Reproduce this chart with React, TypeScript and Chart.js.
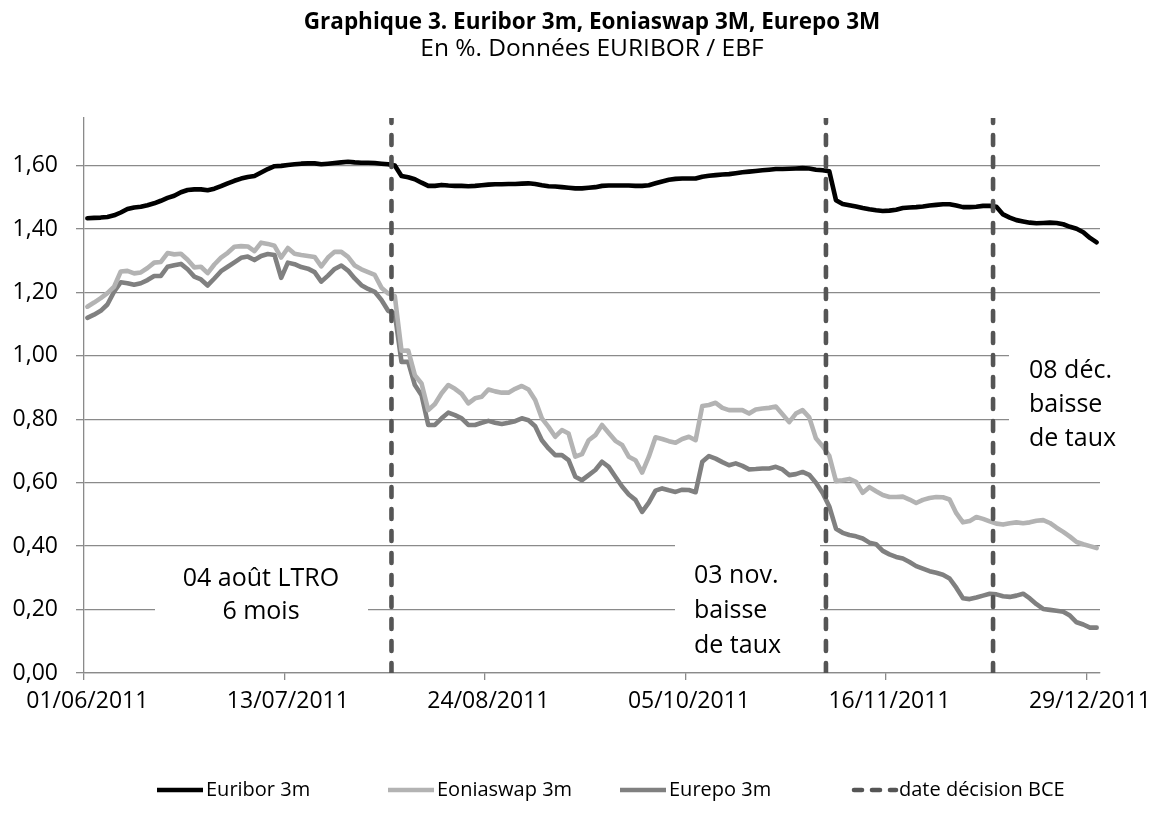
import React, { useEffect, useRef } from 'react';
import { Chart, registerables } from 'chart.js';

Chart.register(...registerables);

// ---------- DATA ----------
const FIRST_DAY = '01/06/2011';
const LAST_DAY = '30/12/2011';
const CLOSED_DAYS = ['26/12/2011'];

function parseDay(s: string): Date {
  const [d, m, y] = s.split('/').map(Number);
  return new Date(y, m - 1, d);
}
function formatDay(dt: Date): string {
  const d = String(dt.getDate()).padStart(2, '0');
  const m = String(dt.getMonth() + 1).padStart(2, '0');
  return `${d}/${m}/${dt.getFullYear()}`;
}
function businessDays(first: string, last: string, closed: string[]): string[] {
  const out: string[] = [];
  const end = parseDay(last);
  for (let dt = parseDay(first); dt <= end; dt = new Date(dt.getFullYear(), dt.getMonth(), dt.getDate() + 1)) {
    const wd = dt.getDay();
    const s = formatDay(dt);
    if (wd !== 0 && wd !== 6 && !closed.includes(s)) out.push(s);
  }
  return out;
}

const dates = businessDays(FIRST_DAY, LAST_DAY, CLOSED_DAYS);

const euribor3m = [
  1.434, 1.435, 1.436, 1.438, 1.443, 1.452, 1.463, 1.468, 1.470, 1.475,
  1.481, 1.489, 1.498, 1.505, 1.516, 1.523, 1.525, 1.525, 1.522, 1.527,
  1.535, 1.544, 1.552, 1.559, 1.564, 1.567, 1.578, 1.589, 1.598, 1.599,
  1.602, 1.604, 1.606, 1.607, 1.607, 1.604, 1.606, 1.608, 1.610, 1.612,
  1.610, 1.609, 1.609, 1.608, 1.606, 1.604, 1.600, 1.567, 1.563, 1.557,
  1.546, 1.536, 1.536, 1.539, 1.537, 1.536, 1.536, 1.535, 1.536, 1.538,
  1.540, 1.541, 1.541, 1.542, 1.542, 1.543, 1.544, 1.542, 1.538, 1.535,
  1.534, 1.532, 1.530, 1.528, 1.528, 1.530, 1.532, 1.536, 1.537, 1.537,
  1.537, 1.537, 1.536, 1.536, 1.538, 1.544, 1.550, 1.555, 1.558, 1.559,
  1.559, 1.559, 1.565, 1.568, 1.570, 1.572, 1.573, 1.576, 1.579, 1.581,
  1.583, 1.585, 1.587, 1.589, 1.589, 1.590, 1.591, 1.592, 1.591, 1.587,
  1.585, 1.582, 1.491, 1.479, 1.475, 1.471, 1.466, 1.462, 1.459, 1.457,
  1.458, 1.461, 1.466, 1.468, 1.469, 1.471, 1.474, 1.476, 1.478, 1.478,
  1.474, 1.469, 1.469, 1.470, 1.473, 1.473, 1.470, 1.446, 1.436, 1.428,
  1.424, 1.420, 1.418, 1.419, 1.420, 1.419, 1.415, 1.407, 1.401, 1.390,
  1.372, 1.358,
];

const eoniaswap3m = [
  1.155, 1.168, 1.182, 1.198, 1.218, 1.266, 1.268, 1.260, 1.263, 1.277,
  1.294, 1.296, 1.324, 1.320, 1.322, 1.303, 1.279, 1.281, 1.261, 1.288,
  1.310, 1.325, 1.344, 1.346, 1.345, 1.330, 1.357, 1.353, 1.347, 1.310,
  1.340, 1.322, 1.318, 1.315, 1.312, 1.282, 1.310, 1.328, 1.328, 1.312,
  1.285, 1.273, 1.264, 1.255, 1.215, 1.197, 1.188, 1.016, 1.017, 0.939,
  0.913, 0.829, 0.848, 0.882, 0.908, 0.896, 0.880, 0.850, 0.866, 0.871,
  0.894, 0.888, 0.884, 0.884, 0.896, 0.905, 0.894, 0.861, 0.803, 0.776,
  0.745, 0.766, 0.755, 0.682, 0.690, 0.734, 0.750, 0.782, 0.757, 0.732,
  0.719, 0.682, 0.671, 0.632, 0.682, 0.743, 0.738, 0.731, 0.726, 0.738,
  0.745, 0.734, 0.842, 0.845, 0.852, 0.836, 0.829, 0.829, 0.829, 0.818,
  0.831, 0.834, 0.836, 0.840, 0.816, 0.791, 0.818, 0.829, 0.806, 0.740,
  0.715, 0.685, 0.605, 0.608, 0.612, 0.603, 0.568, 0.586, 0.573, 0.561,
  0.555, 0.555, 0.556, 0.547, 0.536, 0.546, 0.552, 0.555, 0.554, 0.547,
  0.504, 0.475, 0.479, 0.492, 0.486, 0.478, 0.471, 0.468, 0.472, 0.475,
  0.472, 0.475, 0.480, 0.482, 0.473, 0.458, 0.445, 0.430, 0.413, 0.406,
  0.400, 0.394,
];

const eurepo3m = [
  1.120, 1.130, 1.142, 1.162, 1.202, 1.232, 1.229, 1.224, 1.229, 1.239,
  1.252, 1.252, 1.281, 1.286, 1.290, 1.273, 1.250, 1.241, 1.222, 1.244,
  1.267, 1.281, 1.295, 1.309, 1.313, 1.302, 1.315, 1.321, 1.318, 1.246,
  1.294, 1.289, 1.280, 1.275, 1.264, 1.234, 1.253, 1.274, 1.285, 1.269,
  1.244, 1.223, 1.211, 1.202, 1.176, 1.142, 1.134, 0.981, 0.981, 0.908,
  0.876, 0.782, 0.782, 0.803, 0.821, 0.813, 0.803, 0.782, 0.782, 0.789,
  0.795, 0.789, 0.785, 0.789, 0.794, 0.803, 0.797, 0.778, 0.734, 0.708,
  0.687, 0.687, 0.671, 0.619, 0.608, 0.624, 0.640, 0.666, 0.650, 0.619,
  0.588, 0.563, 0.546, 0.508, 0.537, 0.575, 0.582, 0.576, 0.571, 0.578,
  0.577, 0.570, 0.666, 0.684, 0.676, 0.665, 0.655, 0.661, 0.653, 0.642,
  0.643, 0.645, 0.645, 0.650, 0.642, 0.624, 0.627, 0.634, 0.625, 0.600,
  0.568, 0.525, 0.455, 0.442, 0.435, 0.431, 0.424, 0.411, 0.406, 0.385,
  0.374, 0.366, 0.361, 0.350, 0.337, 0.329, 0.321, 0.316, 0.310, 0.298,
  0.269, 0.236, 0.233, 0.238, 0.244, 0.250, 0.248, 0.242, 0.240, 0.244,
  0.250, 0.235, 0.217, 0.202, 0.199, 0.196, 0.193, 0.181, 0.160, 0.153,
  0.143, 0.143,
];

const decisionDates = ['04/08/2011', '03/11/2011', '08/12/2011'];

const yTickValues = [0, 0.2, 0.4, 0.6, 0.8, 1.0, 1.2, 1.4, 1.6];
const Y_MAX = 1.75;
const X_LABEL_EVERY = 30;

const seriesNames = ['Euribor 3m', 'Eoniaswap 3m', 'Eurepo 3m', 'date décision BCE'];
const titleText = 'Graphique 3. Euribor 3m, Eoniaswap 3M, Eurepo 3M';
const subtitleText = 'En %. Données EURIBOR / EBF';
const noteLTRO = ['04 août LTRO', '6 mois'];
const noteNov = ['03 nov.', 'baisse', 'de taux'];
const noteDec = ['08 déc.', 'baisse', 'de taux'];

// ---------- STYLE ----------
const FONT = "'Open Sans', 'DejaVu Sans', sans-serif";
const GRID = '#8a8a8a';
const COLORS = ['#000000', '#b3b3b3', '#808080', '#555555'];
const LINE_W = 4.6;
const DASH = [10, 12];

const W = 1144;
const H = 814;

const NOTES = [
  { lines: noteLTRO, box: [147, 548, 360, 632], x: 253, y0: 571, dy: 33, align: 'center' as CanvasTextAlign },
  { lines: noteNov, box: [667, 531, 812, 660], x: 686, y0: 568, dy: 35, align: 'left' as CanvasTextAlign },
  { lines: noteDec, box: [1001, 327, 1130, 455], x: 1021, y0: 363, dy: 34, align: 'left' as CanvasTextAlign },
];

const LEGEND_X = [149, 380, 612, 842];
const LEGEND_Y = 782;
const LEGEND_SAMPLE = 46;

const decorPlugin = {
  id: 'decor',
  beforeDatasetsDraw(chart: any) {
    const ctx: CanvasRenderingContext2D = chart.ctx;
    ctx.save();
    ctx.font = `25px ${FONT}`;
    ctx.textBaseline = 'middle';
    for (const n of NOTES) {
      ctx.fillStyle = '#ffffff';
      ctx.fillRect(n.box[0], n.box[1], n.box[2] - n.box[0], n.box[3] - n.box[1]);
      ctx.fillStyle = '#000000';
      ctx.textAlign = n.align;
      n.lines.forEach((t, k) => ctx.fillText(t, n.x, n.y0 + k * n.dy));
    }
    ctx.restore();
  },
  afterDraw(chart: any) {
    const ctx: CanvasRenderingContext2D = chart.ctx;
    ctx.save();
    ctx.fillStyle = '#000000';
    ctx.textAlign = 'center';
    ctx.textBaseline = 'middle';
    ctx.font = `bold 22.5px ${FONT}`;
    ctx.fillText(titleText, 584, 15);
    ctx.font = `24.5px ${FONT}`;
    ctx.fillText(subtitleText, 584, 41);

    // legend
    ctx.font = `20px ${FONT}`;
    ctx.textAlign = 'left';
    seriesNames.forEach((name, k) => {
      const x = LEGEND_X[k];
      ctx.beginPath();
      ctx.strokeStyle = COLORS[k];
      ctx.lineWidth = LINE_W;
      ctx.lineCap = k === 3 ? 'round' : 'butt';
      ctx.setLineDash(k === 3 ? [8, 10] : []);
      ctx.moveTo(x + (k === 3 ? 4 : 0), LEGEND_Y);
      ctx.lineTo(x + LEGEND_SAMPLE, LEGEND_Y);
      ctx.stroke();
      ctx.setLineDash([]);
      ctx.fillStyle = '#000000';
      ctx.fillText(name, x + LEGEND_SAMPLE + 3, LEGEND_Y);
    });
    ctx.restore();
  },
};

export default function App() {
  const ref = useRef<HTMLCanvasElement>(null);

  useEffect(() => {
    if (!ref.current) return;
    const nCat = dates.length;
    const lineSeries = [euribor3m, eoniaswap3m, eurepo3m].map((values, k) => ({
      type: 'line' as const,
      label: seriesNames[k],
      data: values,
      xAxisID: 'x',
      yAxisID: 'y',
      borderColor: COLORS[k],
      backgroundColor: COLORS[k],
      borderWidth: LINE_W,
      pointRadius: 0,
      tension: 0,
      borderJoinStyle: 'round' as const,
      borderCapStyle: 'round' as const,
      order: k + 1,
    }));
    const decisionSeries = decisionDates.map((d) => {
      const idx = dates.indexOf(d);
      return {
        type: 'line' as const,
        label: seriesNames[3],
        data: [
          { x: idx, y: 0 },
          { x: idx, y: Y_MAX },
        ],
        xAxisID: 'x2',
        yAxisID: 'y',
        borderColor: COLORS[3],
        borderWidth: LINE_W,
        borderDash: DASH,
        borderCapStyle: 'round' as const,
        pointRadius: 0,
        order: 0,
      };
    });

    const chart = new Chart(ref.current, {
      type: 'line',
      data: {
        labels: dates,
        datasets: [...decisionSeries, ...lineSeries] as any,
      },
      plugins: [decorPlugin],
      options: {
        animation: false,
        responsive: false,
        devicePixelRatio: 1,
        layout: { padding: { top: 110, right: 52, bottom: 89, left: 0 } },
        plugins: {
          legend: { display: false },
          title: { display: false },
          tooltip: { enabled: false },
        },
        scales: {
          x: {
            type: 'category',
            offset: true,
            grid: {
              offset: true,
              drawOnChartArea: false,
              tickLength: 7,
              lineWidth: 1.3,
              color: (c: any) =>
                typeof c.index === 'number' && c.index % X_LABEL_EVERY === 0 ? GRID : 'rgba(0,0,0,0)',
            },
            border: { color: GRID, width: 1.3 },
            ticks: {
              autoSkip: false,
              maxRotation: 0,
              minRotation: 0,
              padding: 8,
              color: '#000000',
              font: { family: FONT, size: 23 },
              callback: (_v: any, i: number) => (i % X_LABEL_EVERY === 0 ? dates[i] : ''),
            },
            afterFit: (s: any) => {
              s.height = 60;
            },
          },
          x2: {
            type: 'linear',
            display: false,
            min: 0,
            max: nCat,
          },
          y: {
            type: 'linear',
            min: 0,
            max: Y_MAX,
            afterBuildTicks: (s: any) => {
              s.ticks = yTickValues.map((v) => ({ value: v }));
            },
            grid: { color: GRID, lineWidth: 1.3, tickLength: 8 },
            border: { color: GRID, width: 1.3 },
            ticks: {
              padding: 18,
              color: '#000000',
              font: { family: FONT, size: 23 },
              callback: (v: any) => Number(v).toFixed(2).replace('.', ','),
            },
            afterFit: (s: any) => {
              s.width = 76;
            },
          },
        },
      } as any,
    });
    return () => chart.destroy();
  }, []);

  return (
    <div style={{ width: W, height: H }}>
      <canvas ref={ref} width={W} height={H} style={{ width: W, height: H, display: 'block' }} />
    </div>
  );
}
